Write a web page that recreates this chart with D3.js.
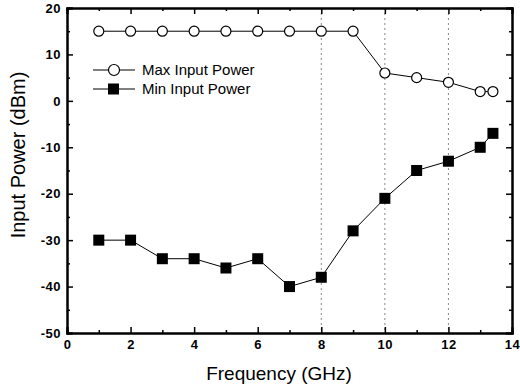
<!DOCTYPE html>
<html>
<head>
<meta charset="utf-8">
<script src="https://cdn.jsdelivr.net/npm/d3@7"></script>
<style>
  body { margin: 0; background: #fff; }
  text { font-family: Arial, "Liberation Sans", sans-serif; }
</style>
</head>
<body>
<svg id="chart" width="520" height="390"></svg>
<script>
// dati
const freq = [1, 2, 3, 4, 5, 6, 7, 8, 9, 10, 11, 12, 13, 13.4]
const maxPower = [15, 15, 15, 15, 15, 15, 15, 15, 15, 6, 5, 4, 2, 2]
const minPower = [-30, -30, -34, -34, -36, -34, -40, -38, -28, -21, -15, -13, -10, -7]
const xTicks = [0, 2, 4, 6, 8, 10, 12, 14]
const yTicks = [20, 10, 0, -10, -20, -30, -40, -50]
const gridFreq = [8, 10, 12]

const svg = d3.select('#chart')
const plotLeft = 67, plotRight = 512, plotTop = 8, plotBottom = 333

const xScale = d3.scaleLinear().domain([0, 14]).range([plotLeft, plotRight])
const yScale = d3.scaleLinear().domain([-50, 20]).range([plotBottom, plotTop])

// linee tratteggiate verticali
svg.selectAll('.grid')
  .data(gridFreq)
  .enter().append('line')
  .attr('x1', d => xScale(d)).attr('x2', d => xScale(d))
  .attr('y1', plotTop).attr('y2', plotBottom)
  .attr('stroke', '#888')
  .attr('stroke-width', 1)
  .attr('stroke-dasharray', '2,3')

// formato con trattino normale
const fmt = d => String(d)

// assi (ticks verso l'interno)
svg.append('g')
  .attr('transform', `translate(0, ${plotBottom})`)
  .call(d3.axisBottom(xScale).tickValues(xTicks).tickSize(-6).tickPadding(7).tickFormat(fmt))
svg.append('g')
  .attr('transform', `translate(0, ${plotBottom})`)
  .call(d3.axisBottom(xScale).tickValues(d3.range(1, 14, 2)).tickSize(-3).tickFormat(''))
svg.append('g')
  .attr('transform', `translate(0, ${plotTop})`)
  .call(d3.axisTop(xScale).tickValues(xTicks).tickSize(-6).tickFormat(''))
svg.append('g')
  .attr('transform', `translate(0, ${plotTop})`)
  .call(d3.axisTop(xScale).tickValues(d3.range(1, 14, 2)).tickSize(-3).tickFormat(''))

svg.append('g')
  .attr('transform', `translate(${plotLeft}, 0)`)
  .call(d3.axisLeft(yScale).tickValues(yTicks).tickSize(-6).tickPadding(6).tickFormat(fmt))
svg.append('g')
  .attr('transform', `translate(${plotLeft}, 0)`)
  .call(d3.axisLeft(yScale).tickValues(d3.range(-45, 20, 10)).tickSize(-3).tickFormat(''))
svg.append('g')
  .attr('transform', `translate(${plotRight}, 0)`)
  .call(d3.axisRight(yScale).tickValues(yTicks).tickSize(-6).tickFormat(''))
svg.append('g')
  .attr('transform', `translate(${plotRight}, 0)`)
  .call(d3.axisRight(yScale).tickValues(d3.range(-45, 20, 10)).tickSize(-3).tickFormat(''))

svg.selectAll('path.domain').attr('stroke', '#000').attr('stroke-width', 2)
svg.selectAll('.tick line').attr('stroke', '#000').attr('stroke-width', 1.5)
svg.selectAll('.tick text')
  .attr('fill', '#000')
  .style('font-size', '13px')
  .style('font-weight', 'bold')
  .style('letter-spacing', '0.5px')

// serie
const line = d3.line()
  .x((d, i) => xScale(freq[i]))
  .y(d => yScale(d))

svg.append('path').datum(maxPower)
  .attr('d', line).attr('fill', 'none').attr('stroke', '#000').attr('stroke-width', 1)
svg.append('path').datum(minPower)
  .attr('d', line).attr('fill', 'none').attr('stroke', '#000').attr('stroke-width', 1)

svg.selectAll('.maxpt')
  .data(maxPower)
  .enter().append('circle')
  .attr('cx', (d, i) => xScale(freq[i]))
  .attr('cy', d => yScale(d))
  .attr('r', 5)
  .attr('fill', '#fff').attr('stroke', '#000').attr('stroke-width', 1.2)

svg.selectAll('.minpt')
  .data(minPower)
  .enter().append('rect')
  .attr('x', (d, i) => xScale(freq[i]) - 5.5)
  .attr('y', d => yScale(d) - 5.5)
  .attr('width', 11).attr('height', 11)
  .attr('fill', '#000')

// legenda
const legend = svg.append('g')
legend.append('line').attr('x1', 93).attr('x2', 135).attr('y1', 70).attr('y2', 70).attr('stroke', '#000')
legend.append('circle').attr('cx', 114).attr('cy', 70).attr('r', 5.5)
  .attr('fill', '#fff').attr('stroke', '#000').attr('stroke-width', 1.2)
legend.append('text').attr('x', 142).attr('y', 75).style('font-size', '15px').text('Max Input Power')
legend.append('line').attr('x1', 93).attr('x2', 135).attr('y1', 89).attr('y2', 89).attr('stroke', '#000')
legend.append('rect').attr('x', 108).attr('y', 83.5).attr('width', 11).attr('height', 11).attr('fill', '#000')
legend.append('text').attr('x', 142).attr('y', 94).style('font-size', '15px').text('Min Input Power')

// etichette assi
svg.append('text')
  .attr('x', 279)
  .attr('y', 380)
  .style('text-anchor', 'middle')
  .style('font-size', '19px')
  .text('Frequency (GHz)')

svg.append('text')
  .attr('transform', 'rotate(-90)')
  .attr('x', -155)
  .attr('y', 25)
  .style('text-anchor', 'middle')
  .style('font-size', '20px')
  .text('Input Power (dBm)')
</script>
</body>
</html>
